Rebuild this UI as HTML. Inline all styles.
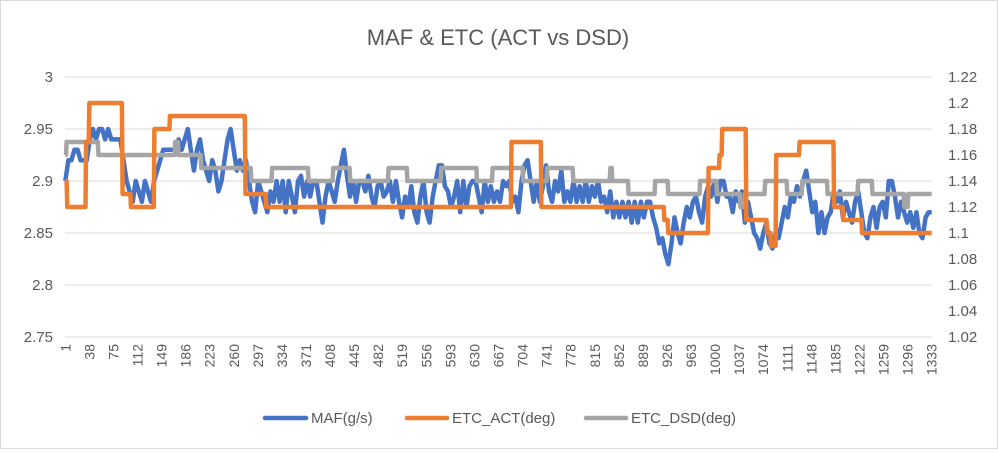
<!DOCTYPE html>
<html><head><meta charset="utf-8"><style>
body{margin:0;background:#fff;font-family:"Liberation Sans",Arial,sans-serif;}
#wrap{position:relative;width:998px;height:449px;}
svg text{font-family:"Liberation Sans",Arial,sans-serif;fill:#595959;}
</style></head><body>
<div id="wrap">
<svg id="chart" width="998" height="449">
<rect x="0.5" y="0.5" width="997" height="448" fill="#fff" stroke="#d9d9d9"/>
<text x="498" y="45" text-anchor="middle" font-size="22">MAF &amp; ETC (ACT vs DSD)</text>
<g id="grid"></g><g id="lt"></g><g id="rt"></g><g id="xt"></g><g id="series"></g>
<g>
<line x1="265" y1="418" x2="306" y2="418" stroke="#4472c4" stroke-width="4.5" stroke-linecap="round"/>
<text x="311" y="423" font-size="15">MAF(g/s)</text>
<line x1="407" y1="418" x2="447" y2="418" stroke="#ed7d31" stroke-width="4.5" stroke-linecap="round"/>
<text x="452" y="423" font-size="15">ETC_ACT(deg)</text>
<line x1="586" y1="418" x2="626" y2="418" stroke="#a5a5a5" stroke-width="4.5" stroke-linecap="round"/>
<text x="631" y="423" font-size="15">ETC_DSD(deg)</text>
</g>
</svg></div>
<script>
const leftTicks=[3,2.95,2.9,2.85,2.8,2.75];
const leftTickLabels=["3","2.95","2.9","2.85","2.8","2.75"];
const rightTicks=[1.22,1.2,1.18,1.16,1.14,1.12,1.1,1.08,1.06,1.04,1.02];
const rightTickLabels=["1.22","1.2","1.18","1.16","1.14","1.12","1.1","1.08","1.06","1.04","1.02"];
const nCat=1333;
const xLabelStep=37;
const mafVals=[2.90,2.92,2.92,2.93,2.93,2.92,2.92,2.92,2.94,2.95,2.94,2.95,2.95,2.94,2.95,2.94,2.94,2.94,2.94,2.92,2.90,2.89,2.88,2.90,2.89,2.88,2.90,2.89,2.88,2.90,2.91,2.92,2.93,2.93,2.93,2.93,2.93,2.94,2.93,2.94,2.95,2.93,2.91,2.93,2.94,2.92,2.91,2.90,2.92,2.91,2.89,2.90,2.92,2.94,2.95,2.93,2.91,2.92,2.91,2.92,2.90,2.88,2.87,2.90,2.89,2.88,2.87,2.89,2.88,2.90,
2.88,2.90,2.87,2.90,2.885,2.87,2.90,2.905,2.885,2.90,2.885,2.90,2.90,2.88,2.86,2.885,2.90,2.89,2.88,2.90,2.915,2.93,2.905,2.885,2.90,2.88,2.90,2.90,2.89,2.905,2.885,2.875,2.895,2.90,2.885,2.89,2.90,2.88,2.90,2.88,2.865,2.885,2.875,2.895,2.87,2.86,2.885,2.90,2.87,2.86,2.885,2.90,2.915,2.915,2.895,2.89,2.875,2.885,2.90,2.87,2.90,2.875,2.895,2.90,2.90,2.885,2.87,2.90,
2.88,2.895,2.88,2.89,2.88,2.90,2.895,2.90,2.88,2.885,2.87,2.90,2.915,2.92,2.90,2.88,2.90,2.88,2.895,2.915,2.89,2.88,2.90,2.89,2.91,2.88,2.89,2.88,2.90,2.88,2.895,2.88,2.90,2.88,2.895,2.885,2.90,2.88,2.885,2.87,2.89,2.865,2.88,2.865,2.88,2.865,2.88,2.86,2.88,2.86,2.88,2.865,2.88,2.88,2.865,2.855,2.84,2.845,2.83,2.82,2.84,2.865,2.85,2.84,2.86,2.875,2.865,2.88,2.885,2.87,2.86,
2.885,2.895,2.885,2.90,2.88,2.90,2.90,2.885,2.885,2.87,2.89,2.88,2.89,2.86,2.88,2.865,2.85,2.845,2.835,2.85,2.86,2.84,2.835,2.85,2.845,2.86,2.875,2.865,2.885,2.88,2.895,2.885,2.90,2.91,2.89,2.87,2.88,2.85,2.87,2.85,2.865,2.87,2.89,2.88,2.89,2.865,2.88,2.87,2.86,2.88,2.89,2.87,2.85,2.845,2.865,2.875,2.855,2.875,2.88,2.865,2.90,2.90,2.885,2.865,2.88,2.87,2.86,2.87,2.855,2.87,2.85,2.845,2.865,2.87,2.87];
const actVals=[1.14,1.12,1.17,1.20,1.13,1.12,1.18,1.19,1.13,1.12,1.17,1.12,1.11,1.10,1.15,1.16,1.18,1.11,1.10,1.09,1.16,1.17,1.12,1.11,1.10];
const actEnd=[3,32,37,88,101,137,161,277,309,686,732,921,927,989,1006,1010,1047,1079,1085,1093,1129,1182,1196,1225,1333];
const dsdVals=[1.16,1.17,1.16,1.17,1.16,1.15,1.14,1.15,1.14,1.15,1.14,1.15,1.14,1.15,1.14,1.15,1.14,1.15,1.14,1.15,1.14,1.13,1.14,1.13,1.14,1.13,1.12,1.13,1.14,1.13,1.14,1.13,1.14,1.13,1.12,1.13];
const dsdEnd=[2,51,169,174,209,286,318,374,412,438,497,526,578,633,657,704,741,781,838,841,866,907,927,976,1002,1038,1045,1076,1110,1133,1172,1219,1241,1290,1296,1333];

const NS='http://www.w3.org/2000/svg';
const X0=65,X1=932,YT=77,YB=337;
const xs=i=>X0+(i-0.5)*(X1-X0)/nCat;
const yl=v=>YT+(3-v)/(0.25)*(YB-YT);
const yr=v=>YT+(1.22-v)/(0.20)*(YB-YT);
function mk(tag,attrs,parent){const e=document.createElementNS(NS,tag);for(const k in attrs)e.setAttribute(k,attrs[k]);parent.appendChild(e);return e;}
const grid=document.getElementById('grid'),lt=document.getElementById('lt'),rt=document.getElementById('rt'),xt=document.getElementById('xt'),ser=document.getElementById('series');
leftTicks.forEach((v,i)=>{
 const g=mk('line',{x1:X0,x2:X1,y1:yl(v),y2:yl(v),stroke:'#d9d9d9','stroke-width':1},grid);
 
 
 const t=mk('text',{x:53,y:yl(v)+5,'text-anchor':'end','font-size':15},lt);t.textContent=leftTickLabels[i];
 
 
});
rightTicks.forEach((v,i)=>{
 const t=mk('text',{x:948,y:yr(v)+5,'font-size':15},rt);t.textContent=rightTickLabels[i];
 
 
});
for(let c=1;c<=nCat;c+=xLabelStep){
 const x=xs(c)+5,y=344;
 const t=mk('text',{x:x,y:y,'text-anchor':'end','font-size':14,transform:`rotate(-90 ${x} ${y})`},xt);t.textContent=String(c);
 
 
}
function stepPts(vals,ends,ys){let pts=[],start=1;vals.forEach((v,k)=>{pts.push(xs(start).toFixed(1)+','+ys(v).toFixed(1));pts.push(xs(ends[k]).toFixed(1)+','+ys(v).toFixed(1));start=ends[k]+1;});return pts.join(' ');}
const dsd=mk('polyline',{points:stepPts(dsdVals,dsdEnd,yr),fill:'none',stroke:'#a5a5a5','stroke-width':4.5,'stroke-linejoin':'round'},ser);


const act=mk('polyline',{points:stepPts(actVals,actEnd,yr),fill:'none',stroke:'#ed7d31','stroke-width':4.5,'stroke-linejoin':'round'},ser);


const N=mafVals.length;
const mp=mafVals.map((v,k)=>xs(1+k*(nCat-1)/(N-1)).toFixed(1)+','+yl(v).toFixed(1)).join(' ');
const maf=mk('polyline',{points:mp,fill:'none',stroke:'#4472c4','stroke-width':4.5,'stroke-linejoin':'round'},ser);


ser.insertBefore(maf,dsd);
</script>
</body></html>
